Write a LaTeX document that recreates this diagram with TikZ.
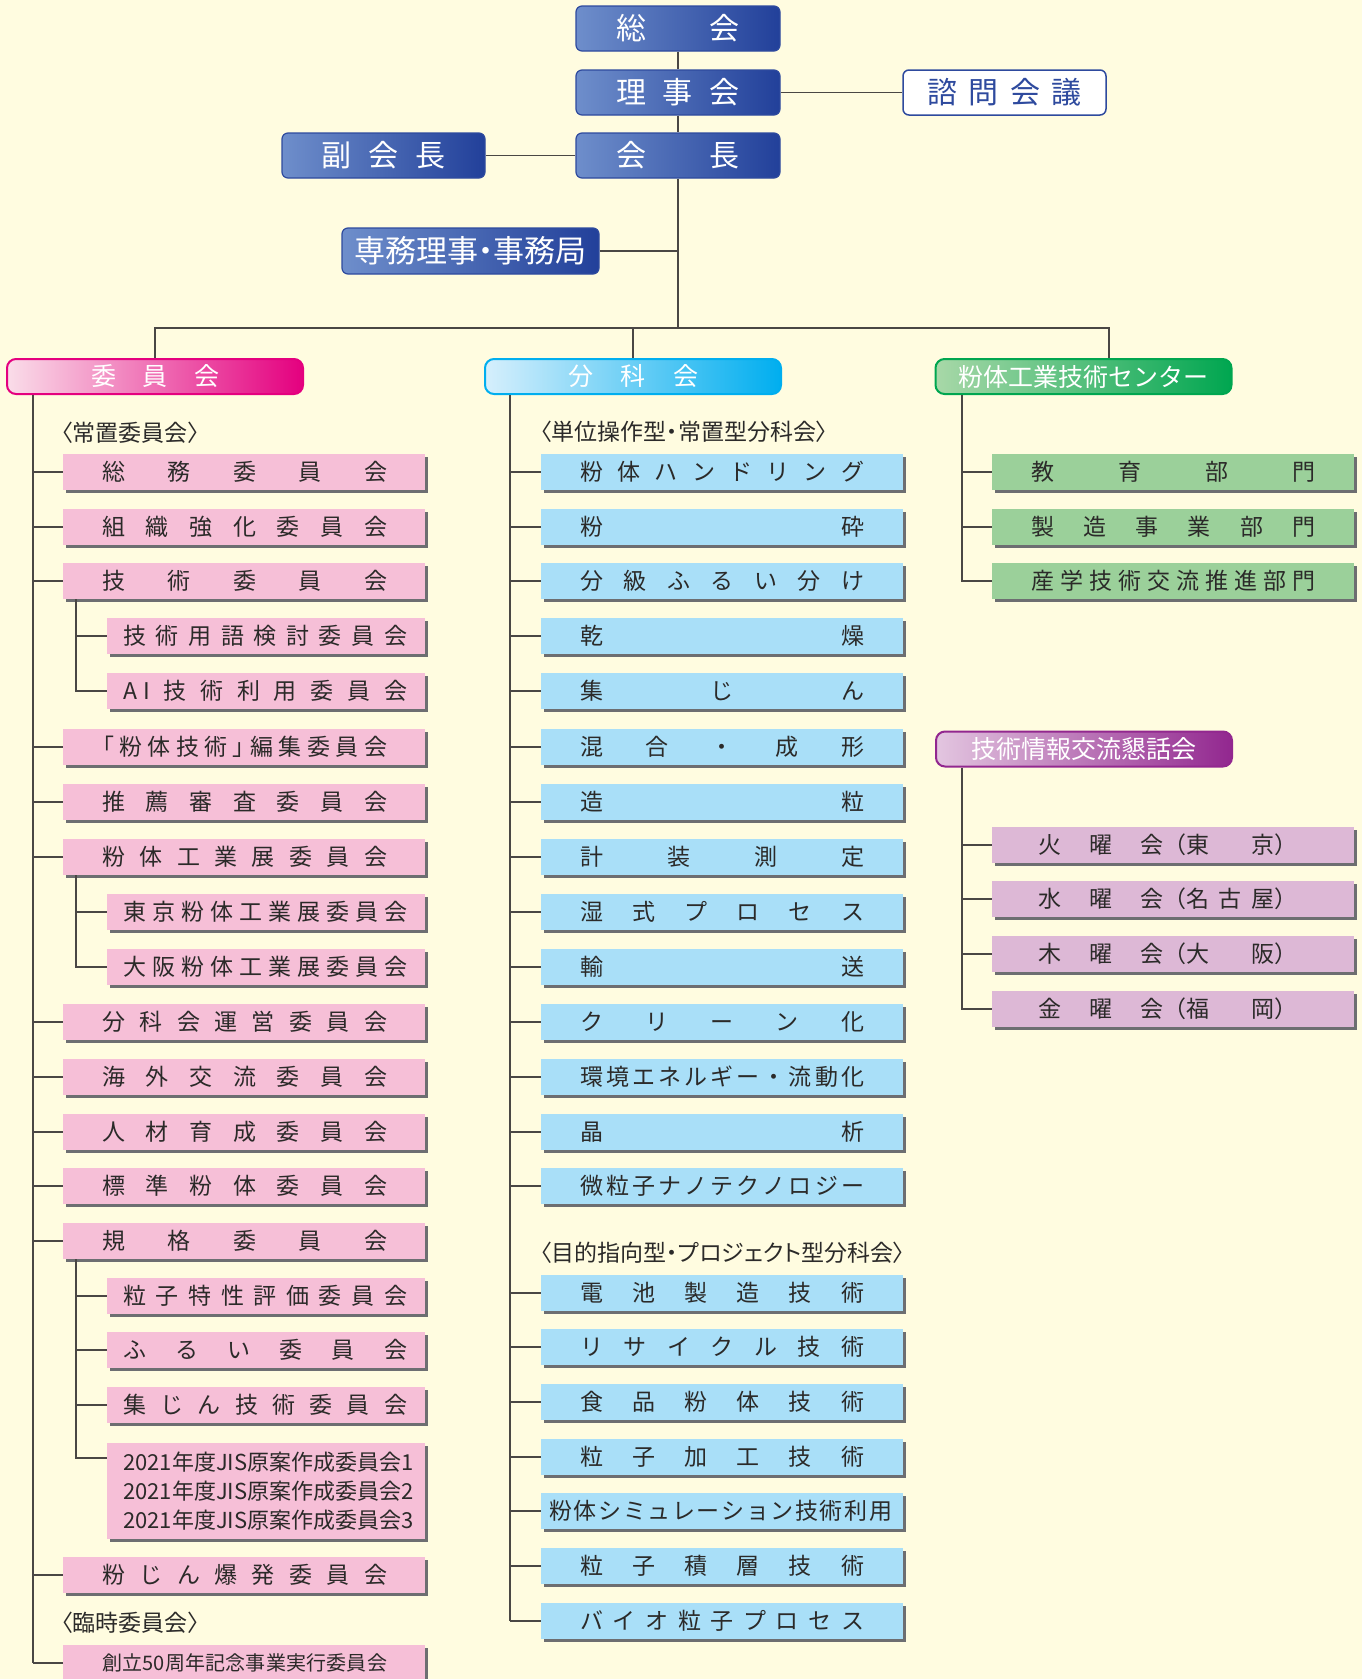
\documentclass[tikz,border=0pt]{standalone}
\usepackage{fontspec}
\setmainfont{Noto Sans CJK JP}
\newfontfamily\jpp[RawFeature=+palt]{Noto Sans CJK JP}
\usetikzlibrary{shadows}
\definecolor{bg}{HTML}{FFFCE0}
\definecolor{txt}{HTML}{2B2A29}
\definecolor{linec}{HTML}{4A4744}
\definecolor{shadowc}{HTML}{6D6E71}
\definecolor{pinkc}{HTML}{F6BFD7}
\definecolor{bluec}{HTML}{A9DFF8}
\definecolor{greenc}{HTML}{9BD09A}
\definecolor{mauvec}{HTML}{DDB8D6}
\definecolor{topL}{HTML}{6E8ECB}
\definecolor{topR}{HTML}{22409A}
\definecolor{topB}{HTML}{2E4A9E}
\definecolor{mag}{HTML}{E4007F}
\definecolor{magL}{HTML}{FADDE9}
\definecolor{cya}{HTML}{00AEEF}
\definecolor{cyaL}{HTML}{D6EFFC}
\definecolor{grn}{HTML}{00A650}
\definecolor{grnL}{HTML}{A8D8A8}
\definecolor{pur}{HTML}{92278F}
\definecolor{purL}{HTML}{E3C6E0}
\makeatletter
\newcommand\jspread[1]{\let\jsp@sep\relax\@tfor\jsp@t:=#1\do{\jsp@sep\jsp@t\let\jsp@sep\hfill}}
\makeatother
\newcommand\SP[4]{\hbox to #1pt{\hskip#2pt\jspread{#4}\hskip#3pt}}
\newcommand\KW[2]{\hbox to 362pt{\hskip46pt\hbox to 125pt{#1\hfill 曜\hfill 会}（\hbox to 88pt{\jspread{#2}}）\hss}}
\newcommand\myItemFont{\fontsize{23pt}{26pt}\selectfont}
\newcommand\myTopFont{\fontsize{30pt}{34pt}\selectfont}
\newcommand\myHdrFont{\fontsize{25pt}{28pt}\selectfont}
\newcommand\myLblFont{\jpp\fontsize{23pt}{26pt}\selectfont}
\tikzset{
  conn/.style={draw=linec, line width=1.8pt},
  topbox/.style={rectangle, rounded corners=6pt, draw=topB, line width=1.2pt, left color=topL, right color=topR, text=white, inner sep=0pt, font=\myTopFont, minimum width=204pt, minimum height=45pt},
  hdr/.style={rectangle, rounded corners=9pt, line width=2pt, inner sep=0pt, minimum width=296pt, minimum height=35pt, text=white, font=\myHdrFont},
  hdrpink/.style={hdr, draw=mag, left color=magL, right color=mag},
  hdrblue/.style={hdr, draw=cya, left color=cyaL, right color=cya},
  hdrgreen/.style={hdr, draw=grn, left color=grnL, right color=grn},
  hdrpur/.style={hdr, draw=pur, left color=purL, right color=pur},
  item/.style={rectangle, inner sep=0pt, minimum height=36pt, anchor=west, text=txt, font=\myItemFont, drop shadow={shadow xshift=3pt, shadow yshift=-3pt, fill=shadowc, opacity=1}},
  pinkitem/.style={item, fill=pinkc},
  blueitem/.style={item, fill=bluec},
  greenitem/.style={item, fill=greenc},
  mauveitem/.style={item, fill=mauvec},
  lbl/.style={anchor=west, inner sep=0pt, text=txt, font=\myLblFont},
}
\begin{document}
\begin{tikzpicture}[x=1pt,y=-1pt]
\useasboundingbox (0,0) rectangle (1362,1679);
\fill[bg] (0,0) rectangle (1362,1679);

% ---------- top ----------
\node[topbox] (sokai) at (678,28.5) {\hbox to 124pt{総\hfill 会}};
\node[topbox] (rijikai) at (678,92.5) {\hbox to 124pt{理\hfill 事\hfill 会}};
\node[topbox] (kaicho) at (678,155.5) {\hbox to 124pt{会\hfill 長}};
\node[topbox, minimum width=203pt] (fuku) at (383.5,155.5) {\hbox to 124pt{副\hfill 会\hfill 長}};
\node[rectangle, rounded corners=6pt, draw=topB, line width=1.5pt, fill=white, text=topB, inner sep=0pt, font=\myTopFont, minimum width=203pt, minimum height=45pt] (shimon) at (1004.5,92.5) {\hbox to 154pt{諮\hfill 問\hfill 会\hfill 議}};
\node[topbox, minimum width=257pt, minimum height=46pt, font=\jpp\fontsize{31pt}{34pt}\selectfont] (senmu) at (470.5,251) {専務理事・事務局};

\coordinate (bus) at (678,328);
\coordinate (senmuT) at (678,251);
\coordinate (Cx) at (1109,0);
\draw[conn] (sokai.south) -- (rijikai.north);
\draw[conn] (rijikai.south) -- (kaicho.north);
\draw[conn] (kaicho.south) -- (bus);
\draw[conn] (rijikai.east) -- (shimon.west);
\draw[conn] (fuku.east) -- (kaicho.west);
\draw[conn] (senmu.east) -- (senmuT);

% ---------- headers ----------
\node[hdrpink] (hIin) at (155,376.5) {\hbox to 128pt{委\hfill 員\hfill 会}};
\node[hdrblue] (hBun) at (633,376.5) {\hbox to 130pt{分\hfill 科\hfill 会}};
\node[hdrgreen] (hCen) at (1083.5,376.5) {粉体工業技術センター};
\node[hdrpur] (hKon) at (1084,749) {技術情報交流懇話会};

\draw[conn] (hIin.north) |- (bus) -| (hCen.north -| Cx);
\draw[conn] (hBun.north) -- (hBun.north |- bus);

% ---------- left column ----------
\node[lbl] (lab1) at (61,433) {〈常置委員会〉};
\node[pinkitem] (L1) at (63,472) {\SP{362}{39}{38}{総務委員会}};
\node[pinkitem] (L2) at (63,527) {\SP{362}{39}{38}{組織強化委員会}};
\node[pinkitem] (L3) at (63,581) {\SP{362}{39}{38}{技術委員会}};
\node[pinkitem] (L4) at (107,636) {\SP{318}{16}{18}{技術用語検討委員会}};
\node[pinkitem] (L5) at (107,691) {\SP{318}{16}{18}{{A\hskip6pt I}技術利用委員会}};
\node[pinkitem] (L6) at (63,747) {\hbox to 362pt{\hskip39pt\jpp\jspread{「粉体技術」編集委員会}\hskip38pt}};
\node[pinkitem] (L7) at (63,802) {\SP{362}{39}{38}{推薦審査委員会}};
\node[pinkitem] (L8) at (63,857) {\SP{362}{39}{38}{粉体工業展委員会}};
\node[pinkitem] (L9) at (107,912) {\SP{318}{16}{18}{東京粉体工業展委員会}};
\node[pinkitem] (L10) at (107,967) {\SP{318}{16}{18}{大阪粉体工業展委員会}};
\node[pinkitem] (L11) at (63,1022) {\SP{362}{39}{38}{分科会運営委員会}};
\node[pinkitem] (L12) at (63,1077) {\SP{362}{39}{38}{海外交流委員会}};
\node[pinkitem] (L13) at (63,1132) {\SP{362}{39}{38}{人材育成委員会}};
\node[pinkitem] (L14) at (63,1186) {\SP{362}{39}{38}{標準粉体委員会}};
\node[pinkitem] (L15) at (63,1241) {\SP{362}{39}{38}{規格委員会}};
\node[pinkitem] (L16) at (107,1296) {\SP{318}{16}{18}{粒子特性評価委員会}};
\node[pinkitem] (L17) at (107,1350) {\SP{318}{16}{18}{ふるい委員会}};
\node[pinkitem] (L18) at (107,1405) {\SP{318}{16}{18}{集じん技術委員会}};
\node[pinkitem, minimum height=96pt, font=\fontsize{22pt}{29pt}\selectfont] (L19) at (107,1491) {\hbox to 318pt{\hskip16pt\vbox{\baselineskip=29pt\hbox{2021年度JIS原案作成委員会1}\hbox{2021年度JIS原案作成委員会2}\hbox{2021年度JIS原案作成委員会3}}\hss}};
\node[pinkitem] (L20) at (63,1575) {\SP{362}{39}{38}{粉じん爆発委員会}};
\node[lbl] (lab2) at (61,1623) {〈臨時委員会〉};
\node[pinkitem, font=\fontsize{20pt}{24pt}\selectfont] (L21) at (63,1663) {\SP{362}{39}{38}{創立{50}周年記念事業実行委員会}};

\coordinate (Lx) at (33,0);
\coordinate (Sx) at (76,0);
\draw[conn] (hIin.south -| Lx) -- (L21.west -| Lx);
\foreach \n in {L1,L2,L3,L6,L7,L8,L11,L12,L13,L14,L15,L20,L21}{
  \draw[conn] (\n.west -| Lx) -- (\n.west);
}
\draw[conn] (L3.south -| Sx) |- (L5.west);
\draw[conn] (L4.west -| Sx) -- (L4.west);
\draw[conn] (L8.south -| Sx) |- (L10.west);
\draw[conn] (L9.west -| Sx) -- (L9.west);
\coordinate (Jc) at (107,1458);
\draw[conn] (L15.south -| Sx) |- (Jc);
\foreach \n in {L16,L17,L18}{
  \draw[conn] (\n.west -| Sx) -- (\n.west);
}

% ---------- middle column ----------
\node[lbl] (lab3) at (540,432) {〈単位操作型・常置型分科会〉};
\node[blueitem] (M1) at (541,472) {\SP{362}{39}{39}{粉体ハンドリング}};
\node[blueitem] (M2) at (541,527) {\SP{362}{39}{39}{粉砕}};
\node[blueitem] (M3) at (541,581) {\SP{362}{39}{39}{分級ふるい分け}};
\node[blueitem] (M4) at (541,636) {\SP{362}{39}{39}{乾燥}};
\node[blueitem] (M5) at (541,691) {\SP{362}{39}{39}{集じん}};
\node[blueitem] (M6) at (541,747) {\SP{362}{39}{39}{混合・成形}};
\node[blueitem] (M7) at (541,802) {\SP{362}{39}{39}{造粒}};
\node[blueitem] (M8) at (541,857) {\SP{362}{39}{39}{計装測定}};
\node[blueitem] (M9) at (541,912) {\SP{362}{39}{39}{湿式プロセス}};
\node[blueitem] (M10) at (541,967) {\SP{362}{39}{39}{輸送}};
\node[blueitem] (M11) at (541,1022) {\SP{362}{39}{39}{クリーン化}};
\node[blueitem] (M12) at (541,1077) {\SP{362}{39}{39}{環境エネルギー・流動化}};
\node[blueitem] (M13) at (541,1132) {\SP{362}{39}{39}{晶析}};
\node[blueitem] (M14) at (541,1186) {\SP{362}{39}{39}{微粒子ナノテクノロジー}};
\node[lbl] (lab4) at (540,1253) {〈目的指向型・プロジェクト型分科会〉};
\node[blueitem] (P1) at (541,1293) {\SP{362}{39}{39}{電池製造技術}};
\node[blueitem] (P2) at (541,1347) {\SP{362}{39}{39}{リサイクル技術}};
\node[blueitem] (P3) at (541,1402) {\SP{362}{39}{39}{食品粉体技術}};
\node[blueitem] (P4) at (541,1457) {\SP{362}{39}{39}{粒子加工技術}};
\node[blueitem] (P5) at (541,1511) {\SP{362}{8}{11}{粉体シミュレーション技術利用}};
\node[blueitem] (P6) at (541,1566) {\SP{362}{39}{39}{粒子積層技術}};
\node[blueitem] (P7) at (541,1621) {\SP{362}{39}{39}{バイオ粒子プロセス}};

\coordinate (Mx) at (510,0);
\draw[conn] (hBun.south -| Mx) -- (P7.west -| Mx);
\foreach \n in {M1,M2,M3,M4,M5,M6,M7,M8,M9,M10,M11,M12,M13,M14,P1,P2,P3,P4,P5,P6,P7}{
  \draw[conn] (\n.west -| Mx) -- (\n.west);
}

% ---------- right column ----------
\node[greenitem] (R1) at (992,472) {\SP{362}{39}{39}{教育部門}};
\node[greenitem] (R2) at (992,527) {\SP{362}{39}{39}{製造事業部門}};
\node[greenitem] (R3) at (992,581) {\SP{362}{39}{39}{産学技術交流推進部門}};
\node[mauveitem] (K1) at (992,845) {\KW{火}{東京}};
\node[mauveitem] (K2) at (992,899) {\KW{水}{名古屋}};
\node[mauveitem] (K3) at (992,954) {\KW{木}{大阪}};
\node[mauveitem] (K4) at (992,1009) {\KW{金}{福岡}};

\coordinate (Rx) at (962,0);
\draw[conn] (hCen.south -| Rx) |- (R3.west);
\draw[conn] (R1.west -| Rx) -- (R1.west);
\draw[conn] (R2.west -| Rx) -- (R2.west);
\draw[conn] (hKon.south -| Rx) |- (K4.west);
\foreach \n in {K1,K2,K3}{
  \draw[conn] (\n.west -| Rx) -- (\n.west);
}
\end{tikzpicture}
\end{document}
